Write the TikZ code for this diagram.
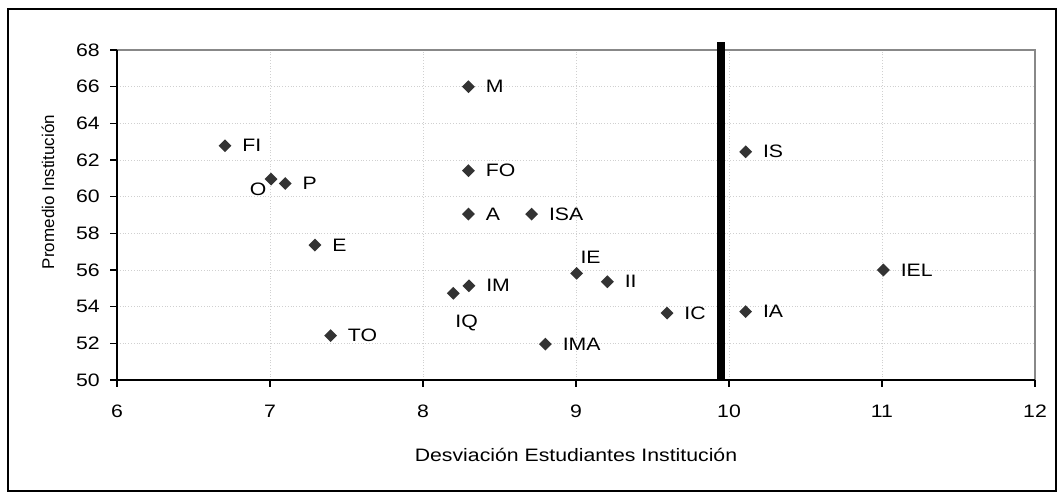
\documentclass[tikz,border=0pt]{standalone}
\usepackage{fontspec}
\setmainfont{Liberation Sans}[FakeStretch=1.18]
\newfontfamily\uprightsans{Liberation Sans}
\usetikzlibrary{positioning,shapes.geometric}

\definecolor{markgray}{HTML}{333333}
\definecolor{gridgray}{HTML}{D0D0D0}
\definecolor{framegray}{HTML}{888888}

\tikzset{
  dot/.style={diamond, fill=markgray, inner sep=0pt, minimum size=13pt},
  lbl/.style={font=\fontsize{18}{21}\selectfont, inner sep=0pt},
  gridline/.style={gridgray, dotted, line width=0.8pt},
}

\begin{document}
\begin{tikzpicture}[x=1pt,y=1pt]
\useasboundingbox (0,0) rectangle (1061,493);

% outer frame
\draw[line width=2pt] (8,2) rectangle (1056,484);

\begin{scope}[x=153pt, y=18.333pt, shift={(-801pt,-803.67pt)}]

% grid
\foreach \gx in {7,...,11}
  \draw[gridline] (\gx,50) -- (\gx,68);
\foreach \gy in {52,54,...,66}
  \draw[gridline] (6,\gy) -- (12,\gy);

\coordinate (orig) at (6,50);
\coordinate (ytop) at (6,68);
\coordinate (xend) at (12,50);
\coordinate (corner) at (12,68);

\draw[framegray, line width=2pt] (ytop) -- (corner) -- (xend);
\draw[line width=2pt] (ytop) -- (orig) -- (xend);

% ticks and tick labels
\foreach \gy in {50,52,...,68} {
  \draw[line width=1.5pt] (6,\gy) -- ++(-7pt,0);
  \node[lbl, anchor=east] (y\gy) at ([xshift=-17pt]6,\gy) {\gy};
}
\foreach \gx in {6,...,12} {
  \draw[line width=1.5pt] (\gx,50) -- ++(0,-7pt);
  \node[lbl] (x\gx) at ([yshift=-31pt]\gx,50) {\gx};
}

\node[lbl] (xtitle) at ([yshift=-75pt]9,50) {Desviación Estudiantes Institución};
\node[lbl, font=\uprightsans\fontsize{17}{20}\selectfont, rotate=90] (ytitle)
  at ([xshift=-69pt,yshift=23pt]6,59) {Promedio Institución};

% limit line
\coordinate (limlo) at (9.948,50);
\coordinate (limhi) at (9.948,68.42);
\draw[line width=8pt] (limlo) -- (limhi);

% points
\foreach \nm/\dx/\dy in {FI/6.706/62.78, O/7.007/60.96, P/7.10/60.72,
    E/7.294/57.36, TO/7.396/52.42, M/8.297/66.0, FO/8.297/61.42,
    A/8.297/59.05, ISA/8.71/59.05, IM/8.30/55.14, IQ/8.198/54.73,
    IMA/8.80/51.96, IE/9.004/55.82, II/9.205/55.36, IC/9.595/53.65,
    IS/10.109/62.45, IA/10.109/53.73, IEL/11.009/56.0}
  \node[dot] (m\nm) at (\dx,\dy) {};

% labels
\foreach \nm in {FI,P,E,TO,M,FO,A,ISA,IM,IMA,II,IC,IS,IA,IEL}
  \node[lbl, right=10.5pt of m\nm] (l\nm) {\nm};
\node[lbl] (lO) at ([shift={(-13pt,-10.7pt)}]mO.center) {O};
\node[lbl] (lIE) at ([shift={(14pt,16pt)}]mIE.center) {IE};
\node[lbl] (lIQ) at ([shift={(13.4pt,-30pt)}]mIQ.center) {IQ};

\end{scope}
\end{tikzpicture}
\end{document}
